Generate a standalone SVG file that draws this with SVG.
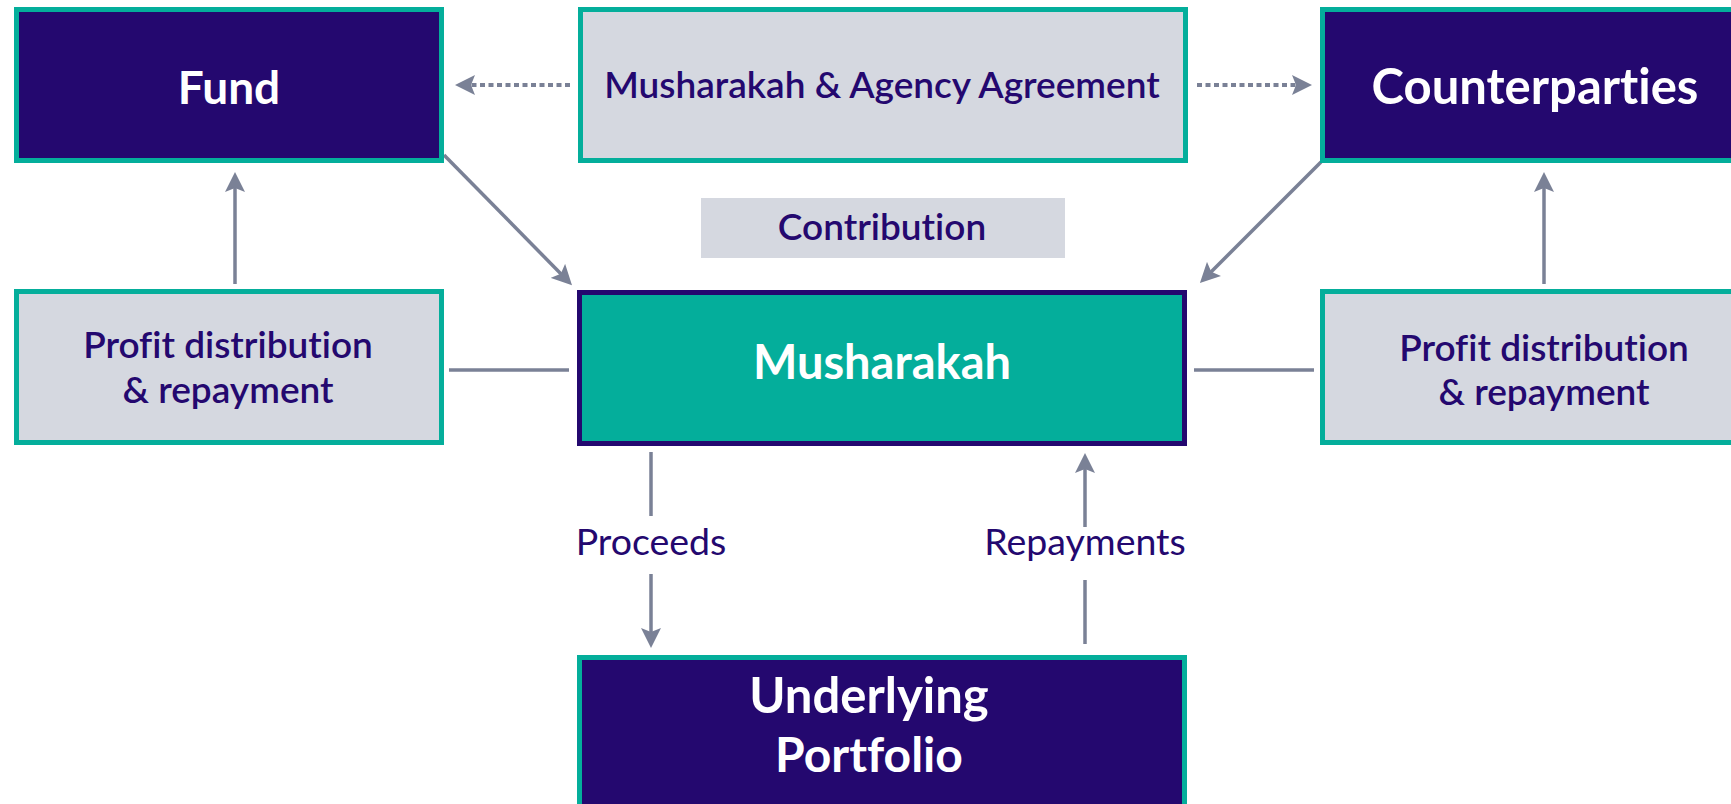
<svg xmlns="http://www.w3.org/2000/svg" width="1731" height="804" viewBox="0 0 1731 804">
  <style>
    text { font-family: Lato, "Liberation Sans", sans-serif; font-variant-ligatures: none; text-anchor: middle; }
    .dark { fill: #24086f; stroke: #04ae9b; stroke-width: 5; }
    .grey { fill: #d5d8e0; stroke: #04ae9b; stroke-width: 5; }
    .core { fill: #04ae9b; stroke: #24086f; stroke-width: 5; }
    .plain { fill: #d5d8e0; }
    .title { font-weight: 700; font-size: 47px; fill: #ffffff; }
    .label { font-weight: 600; font-size: 37px; fill: #24086f; }
    .flow { font-weight: 400; font-size: 37.5px; fill: #24086f; }
    .link { fill: none; stroke: #7a8196; stroke-width: 3.5; }
    .dotted { stroke-dasharray: 5 3.5; stroke-width: 4; }
  </style>
  <defs>
    <marker id="head" markerUnits="userSpaceOnUse" markerWidth="20" markerHeight="20" refX="10" refY="10" orient="auto">
      <path d="M0,0 L20,10 L0,20 L4,10 z" fill="#7a8196"/>
    </marker>
  </defs>
  <rect width="1731" height="804" fill="#ffffff"/>

  <g id="connectors">
    <!-- agreement links (dotted) -->
    <line class="link dotted" x1="570" y1="85" x2="465" y2="85" marker-end="url(#head)"/>
    <line class="link dotted" x1="1197" y1="85" x2="1302" y2="85" marker-end="url(#head)"/>
    <!-- contributions into the Musharakah -->
    <line class="link" x1="444" y1="155" x2="565" y2="278" marker-end="url(#head)"/>
    <line class="link" x1="1321" y1="162" x2="1207" y2="276" marker-end="url(#head)"/>
    <!-- profit distribution up to the parties -->
    <line class="link" x1="235" y1="284" x2="235" y2="182" marker-end="url(#head)"/>
    <line class="link" x1="1544" y1="284" x2="1544" y2="182" marker-end="url(#head)"/>
    <!-- side links -->
    <line class="link" x1="449" y1="370" x2="569" y2="370"/>
    <line class="link" x1="1194" y1="370" x2="1314" y2="370"/>
    <!-- proceeds -->
    <line class="link" x1="651" y1="452" x2="651" y2="516"/>
    <line class="link" x1="651" y1="574" x2="651" y2="638" marker-end="url(#head)"/>
    <!-- repayments -->
    <line class="link" x1="1085" y1="644" x2="1085" y2="580"/>
    <line class="link" x1="1085" y1="527" x2="1085" y2="463" marker-end="url(#head)"/>
    <text class="flow" x="651" y="555">Proceeds</text>
    <text class="flow" x="1085" y="555">Repayments</text>
  </g>

  <g id="fund">
    <rect class="dark" x="16.5" y="9.5" width="425" height="151"/>
    <text class="title" x="229" y="104" style="font-size:46px">Fund</text>
  </g>

  <g id="agreement">
    <rect class="grey" x="580.5" y="9.5" width="605" height="151"/>
    <text class="label" x="882" y="98">Musharakah &amp; Agency Agreement</text>
  </g>

  <g id="counterparties">
    <rect class="dark" x="1322.5" y="9.5" width="500" height="151"/>
    <text class="title" x="1535" y="104" style="font-size:49px">Counterparties</text>
  </g>

  <g id="contribution">
    <rect class="plain" x="701" y="198" width="364" height="60"/>
    <text class="label" x="882" y="240">Contribution</text>
  </g>

  <g id="profit-left">
    <rect class="grey" x="16.5" y="291.5" width="425" height="151"/>
    <text class="label" x="228" y="358">Profit distribution</text>
    <text class="label" x="228" y="403">&amp; repayment</text>
  </g>

  <g id="musharakah">
    <rect class="core" x="579.5" y="292.5" width="605" height="151"/>
    <text class="title" x="882" y="379">Musharakah</text>
  </g>

  <g id="profit-right">
    <rect class="grey" x="1322.5" y="291.5" width="500" height="151"/>
    <text class="label" x="1544" y="361">Profit distribution</text>
    <text class="label" x="1544" y="405">&amp; repayment</text>
  </g>

  <g id="portfolio">
    <rect class="dark" x="579.5" y="657.5" width="605" height="200"/>
    <text class="title" x="869" y="713" style="font-size:49px">Underlying</text>
    <text class="title" x="869" y="772" style="font-size:48px">Portfolio</text>
  </g>
</svg>
